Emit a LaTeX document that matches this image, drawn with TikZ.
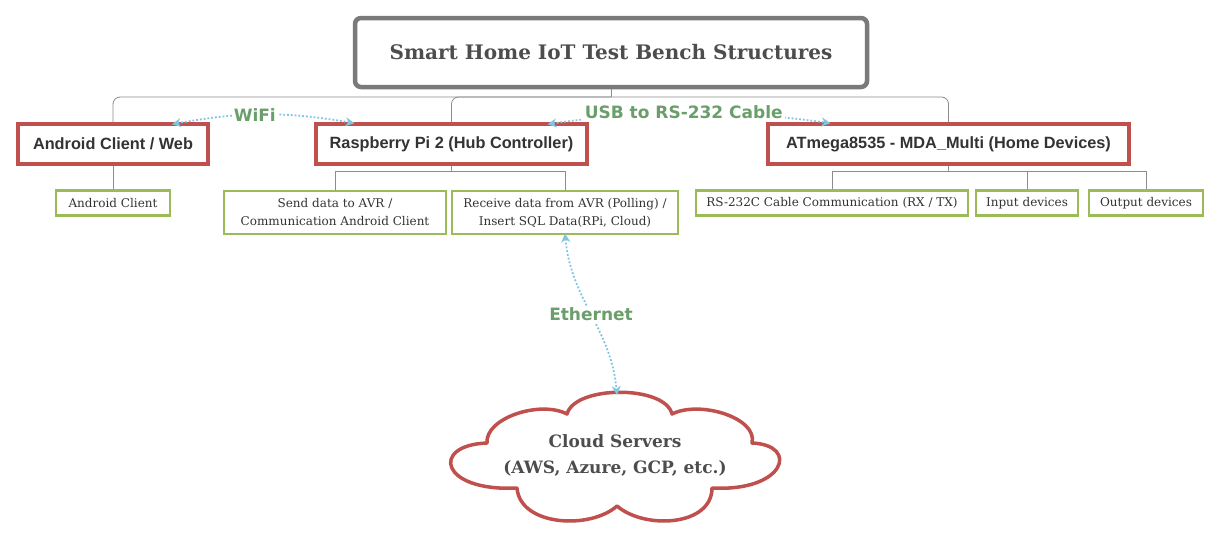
\documentclass[tikz,border=0pt]{standalone}
\usepackage{fontspec}
\setmainfont{DejaVu Serif}
\setsansfont{Liberation Sans}
\newfontfamily\lblfont{DejaVu Sans}
\newfontfamily\slabfont{DejaVu Serif}
\usetikzlibrary{arrows.meta}
\definecolor{redb}{HTML}{C0504D}
\definecolor{greenb}{HTML}{9BBB59}
\definecolor{grayb}{HTML}{7A7A7A}
\definecolor{linegray}{HTML}{8C8C8C}
\definecolor{arrblue}{HTML}{7EC6E2}
\definecolor{lblgreen}{HTML}{6A9E6A}
\definecolor{txt}{HTML}{333333}
\definecolor{txtdark}{HTML}{4D4D4D}
\tikzset{
  titlebox/.style={draw=grayb, line width=4.5pt, rounded corners=6pt, fill=white, inner sep=0pt,
    minimum width=512pt, minimum height=69pt, text=txtdark, font=\slabfont\bfseries\fontsize{20}{24}\selectfont},
  redbox/.style={draw=redb, line width=3.5pt, fill=white, inner sep=0pt, minimum height=40pt,
    text=txt, font=\sffamily\bfseries\fontsize{16.3}{19}\selectfont},
  greenbox/.style={draw=greenb, line width=2.8pt, fill=white, inner sep=0pt, minimum height=25pt,
    text=txt, align=center, font=\slabfont\fontsize{12}{18}\selectfont},
  tree/.style={draw=linegray, line width=0.8pt},
  link/.style={draw=arrblue, line width=1.8pt, dotted, {Stealth[length=9pt,width=9pt,fill=arrblue]}-{Stealth[length=9pt,width=9pt,fill=arrblue]}},
  linklbl/.style={text=lblgreen, fill=white, inner sep=2pt, font=\lblfont\bfseries\fontsize{17}{20}\selectfont},
  cloudline/.style={draw=redb, line width=3.5pt, fill=white, line join=round},
  cloudtext/.style={align=center, text=txtdark, inner sep=0pt, font=\slabfont\bfseries\fontsize{17}{26}\selectfont}
}
\begin{document}
\begin{tikzpicture}[x=1pt,y=-1pt]
\useasboundingbox[fill=white] (0,0) rectangle (1222,533);
% cloud outline
\draw[cloudline] (487,443)
  .. controls (485,418) and (540,400) .. (567,414)
  .. controls (575,385) and (665,385) .. (672,414)
  .. controls (700,400) and (758,418) .. (752,443)
  .. controls (800,445) and (785,492) .. (712,488)
  .. controls (712,526) and (645,530) .. (617,506)
  .. controls (590,530) and (520,526) .. (517,488)
  .. controls (440,492) and (430,445) .. cycle;
\coordinate (cloudtop) at (617,395);
% nodes
\node[titlebox] (title) at (611,52.5) {\raisebox{-2pt}{Smart Home IoT Test Bench Structures}};
\node[redbox, minimum width=190pt] (andr) at (113,144) {\raisebox{-2pt}{Android Client / Web}};
\node[redbox, minimum width=271pt] (rpi) at (451.5,144) {\raisebox{-2pt}{Raspberry Pi 2 (Hub Controller)}};
\node[redbox, minimum width=361pt] (avr) at (948.5,144) {\raisebox{-2pt}{ATmega8535 - MDA\_Multi (Home Devices)}};
\node[greenbox, minimum width=114pt] (ac) at (113,203) {Android Client};
\node[greenbox, minimum width=222pt, minimum height=43pt] (send) at (335,212.5) {Send data to AVR /\\Communication Android Client};
\node[greenbox, minimum width=226pt, minimum height=43pt] (recv) at (565,212.5) {Receive data from AVR (Polling) /\\Insert SQL Data(RPi, Cloud)};
\node[greenbox, minimum width=272pt] (rs) at (832,203) {RS-232C Cable Communication (RX / TX)};
\node[greenbox, minimum width=102pt] (inp) at (1027,203) {Input devices};
\node[greenbox, minimum width=114pt] (outp) at (1146,203) {Output devices};
\node[cloudtext] (cloud) at (615,455) {Cloud Servers\\(AWS, Azure, GCP, etc.)};
% tree
\coordinate (bus) at (611,97);
\draw[tree] (title.south) -- (bus);
\draw[tree, rounded corners=7pt] (andr.north) |- (bus) -| (avr.north);
\draw[tree, rounded corners=7pt] (rpi.north) |- (bus);
\draw[tree] (andr.south) -- (ac.north);
\draw[tree] (rpi.south) -- ++(0,6) -| (send.north);
\draw[tree] (rpi.south) ++(0,6) -| (recv.north);
\draw[tree] (avr.south) -- ++(0,6) -| (rs.north);
\draw[tree] (avr.south) ++(0,6) -| (inp.north);
\draw[tree] (avr.south) ++(0,6) -| (outp.north);
% links
\draw[link] ([xshift=59pt,yshift=-2pt]andr.north) to[bend left=10] node[linklbl, pos=0.45] (wifi) {WiFi} ([xshift=-97pt,yshift=-1pt]rpi.north);
\draw[link] ([xshift=96pt,yshift=-2pt]rpi.north) to[bend left=8] node[linklbl, pos=0.48] (usb) {USB to RS-232 Cable} ([xshift=-118pt,yshift=-1pt]avr.north);
\draw[link] ([yshift=2pt]recv.south) to[out=-85,in=95] node[linklbl, pos=0.5] (eth) {Ethernet} (cloudtop);
\end{tikzpicture}
\end{document}
